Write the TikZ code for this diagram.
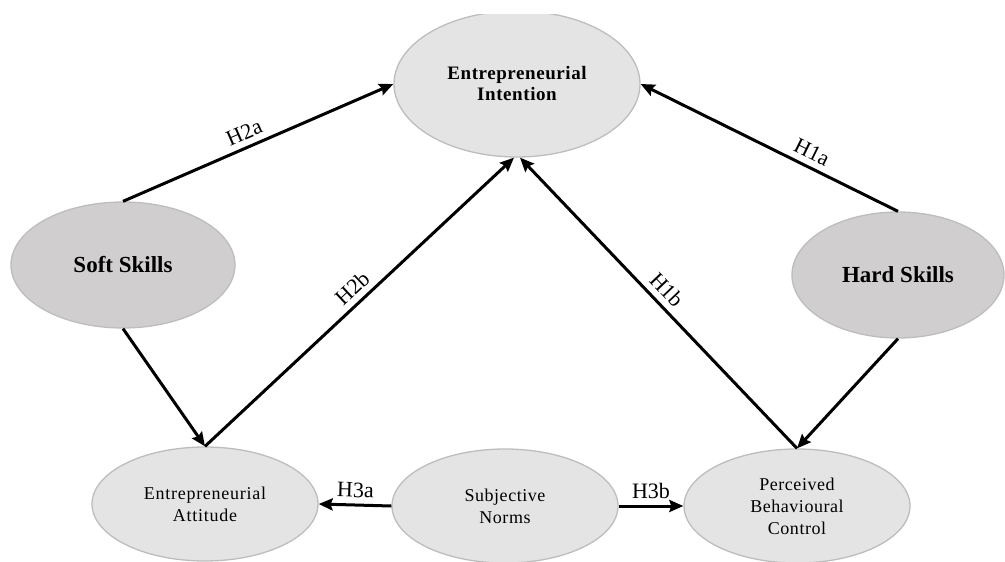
\documentclass[tikz,border=0pt]{standalone}
\usepackage{fontspec}
\setmainfont{Liberation Serif}
\usetikzlibrary{shapes.geometric,arrows.meta}

\definecolor{lightfill}{HTML}{E4E4E4}
\definecolor{darkfill}{HTML}{D0CECF}
\definecolor{rim}{HTML}{BDBDBD}

\tikzset{
  construct/.style={ellipse, draw=rim, line width=1.3pt, inner sep=0pt, align=center},
  outcome/.style={construct, fill=lightfill},
  skill/.style={construct, fill=darkfill},
  pathline/.style={line width=3pt, -{Stealth[length=14pt,width=12pt,inset=2pt]}},
  hyp/.style={font=\fontsize{22}{24}\selectfont, sloped, above, inner sep=6pt}
}

\begin{document}
\begin{tikzpicture}[x=1pt,y=-1pt]
\useasboundingbox (0,0) rectangle (1005,562);

% top construct, its upper edge cut flat
\begin{scope}
  \clip (0,14) rectangle (1005,562);
  \node[outcome, minimum width=246pt, minimum height=146pt,
        font=\bfseries\fontsize{19}{21}\selectfont] (EI) at (517,84)
        {\addfontfeatures{LetterSpace=3}Entrepreneurial\\\addfontfeatures{LetterSpace=3}Intention};
\end{scope}

\node[skill, minimum width=224pt, minimum height=126pt,
      font=\bfseries\fontsize{23}{26}\selectfont] (SS) at (123,265) {Soft Skills};
\node[skill, minimum width=212pt, minimum height=126pt,
      font=\bfseries\fontsize{23}{26}\selectfont] (HS) at (898,275) {Hard Skills};

\node[outcome, minimum width=226pt, minimum height=114pt,
      font=\fontsize{18}{22}\selectfont] (EA) at (205,504)
      {\addfontfeatures{LetterSpace=4}Entrepreneurial\\\addfontfeatures{LetterSpace=4}Attitude};
\node[outcome, minimum width=226pt, minimum height=114pt,
      font=\fontsize{18}{22}\selectfont] (SN) at (505,506)
      {\addfontfeatures{LetterSpace=3}Subjective\\\addfontfeatures{LetterSpace=3}Norms};
\node[outcome, minimum width=226pt, minimum height=114pt,
      font=\fontsize{18}{22}\selectfont] (PBC) at (797,506)
      {\addfontfeatures{LetterSpace=3}Perceived\\\addfontfeatures{LetterSpace=3}Behavioural\\\addfontfeatures{LetterSpace=3}Control};

% hypothesised paths
\draw[pathline] (SS.north) -- node[hyp, pos=0.47] {H2a} (EI.west);
\draw[pathline] (SS.south) -- (EA.north);
\draw[pathline] (EA.north) -- node[hyp, pos=0.51] {H2b} ([xshift=-3pt]EI.south);
\draw[pathline] (HS.north) -- node[hyp, pos=0.36] {H1a} (EI.east);
\draw[pathline] (HS.south) -- (PBC.north);
\draw[pathline] (PBC.north) -- node[hyp, pos=0.51] {H1b} ([xshift=3pt]EI.south);
\draw[pathline] (SN.west) -- node[hyp, pos=0.5] {H3a} (EA.east);
\draw[pathline] (SN.east) -- node[hyp, pos=0.5] {H3b} (PBC.west);
\end{tikzpicture}
\end{document}
